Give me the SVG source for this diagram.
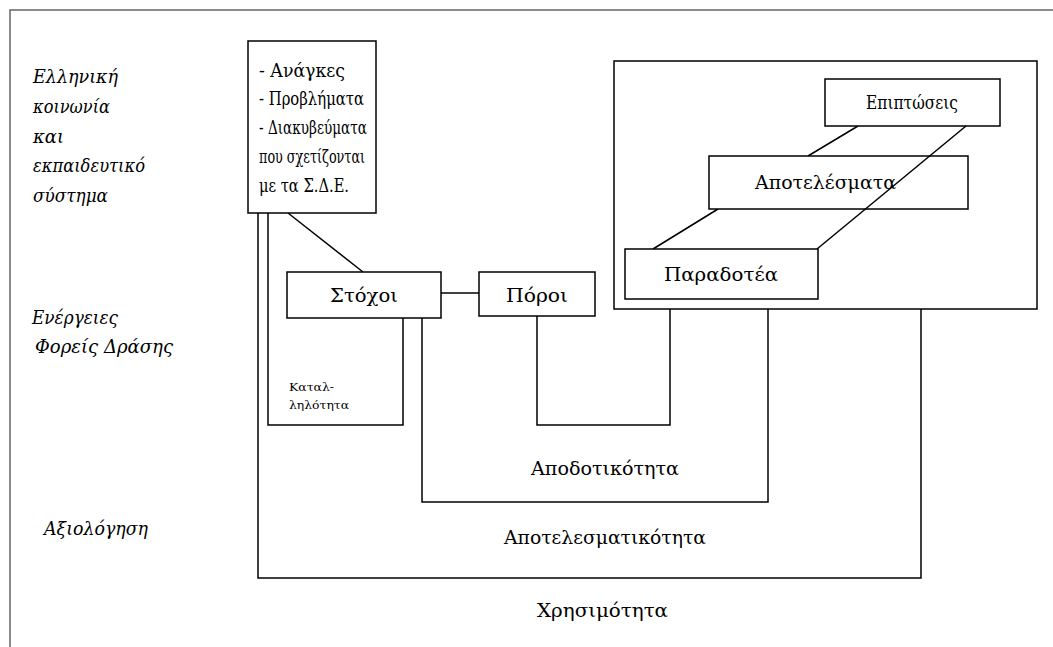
<svg xmlns="http://www.w3.org/2000/svg" width="1053" height="647" viewBox="0 0 1053 647">
  <style>
    .box { fill: #fff; stroke: #000; stroke-width: 1.5; }
    .ln { fill: none; stroke: #000; stroke-width: 1.5; }
    .frame { fill: none; stroke: #666; stroke-width: 1.5; }
    text { font-family: 'DejaVu Serif', 'Liberation Serif', serif; fill: #000; }
    .t { font-size: 18px; }
    .big { font-size: 19px; }
    .it { font-style: italic; font-size: 18px; }
    .sm { font-size: 11px; }
  </style>
  <rect width="1053" height="647" fill="#fff"/>
  <!-- page frame -->
  <path class="frame" d="M10,647 V10 H1053"/>

  <!-- side labels -->
  <g id="label-society">
    <text class="it" x="33" y="83" textLength="85" lengthAdjust="spacingAndGlyphs">Ελληνική</text>
    <text class="it" x="33" y="113" textLength="77" lengthAdjust="spacingAndGlyphs">κοινωνία</text>
    <text class="it" x="33" y="143" textLength="31" lengthAdjust="spacingAndGlyphs">και</text>
    <text class="it" x="33" y="172" textLength="112" lengthAdjust="spacingAndGlyphs">εκπαιδευτικό</text>
    <text class="it" x="33" y="202" textLength="75" lengthAdjust="spacingAndGlyphs">σύστημα</text>
  </g>
  <g id="label-actions">
    <text class="it" x="32" y="324" textLength="86" lengthAdjust="spacingAndGlyphs">Ενέργειες</text>
    <text class="it" x="35" y="353" textLength="138" lengthAdjust="spacingAndGlyphs">Φορείς Δράσης</text>
  </g>
  <g id="label-evaluation">
    <text class="it" x="44" y="535" textLength="104" lengthAdjust="spacingAndGlyphs">Αξιολόγηση</text>
  </g>

  <!-- connectors -->
  <g id="connectors">
    <!-- Χρησιμότητα loop -->
    <path class="ln" d="M258,213 V578 H921 V309"/>
    <!-- Καταλληλότητα loop -->
    <path class="ln" d="M268,213 V425 H403 V318"/>
    <!-- Αποδοτικότητα loop -->
    <path class="ln" d="M422,318 V502 H768 V309"/>
    <!-- Πόροι to outputs -->
    <path class="ln" d="M537,316 V425 H670 V309"/>
    <!-- needs to objectives -->
    <path class="ln" d="M288,213 L363,272"/>
    <!-- objectives to resources -->
    <path class="ln" d="M441,293 H479"/>
  </g>

  <!-- needs box -->
  <g id="needs">
    <rect class="box" x="248" y="41" width="128" height="172"/>
    <text class="t" x="259" y="77" textLength="86" lengthAdjust="spacingAndGlyphs">- Ανάγκες</text>
    <text class="t" x="259" y="105" textLength="105" lengthAdjust="spacingAndGlyphs">- Προβλήματα</text>
    <text class="t" x="259" y="134" textLength="108" lengthAdjust="spacingAndGlyphs">- Διακυβεύματα</text>
    <text class="t" x="259" y="163" textLength="106" lengthAdjust="spacingAndGlyphs">που σχετίζονται</text>
    <text class="t" x="259" y="192" textLength="90" lengthAdjust="spacingAndGlyphs">με τα Σ.Δ.Ε.</text>
  </g>

  <g id="objectives">
    <rect class="box" x="287" y="272" width="154" height="46"/>
    <text class="big" x="330" y="302" textLength="68" lengthAdjust="spacingAndGlyphs">Στόχοι</text>
  </g>

  <g id="resources">
    <rect class="box" x="479" y="272" width="116" height="44"/>
    <text class="big" x="506" y="302" textLength="62" lengthAdjust="spacingAndGlyphs">Πόροι</text>
  </g>

  <g id="relevance-label">
    <text class="sm" x="289" y="391" textLength="45" lengthAdjust="spacingAndGlyphs">Καταλ-</text>
    <text class="sm" x="289" y="409" textLength="60" lengthAdjust="spacingAndGlyphs">ληλότητα</text>
  </g>

  <!-- results frame -->
  <g id="results-frame">
    <rect class="box" x="614" y="61" width="423" height="248"/>
  </g>

  <g id="results-links">
    <path class="ln" d="M858,126 L808,156"/>
    <path class="ln" d="M718,209 L653,249"/>
  </g>

  <g id="impacts">
    <rect class="box" x="825" y="79" width="175" height="47"/>
    <text class="big" x="866" y="109" textLength="92" lengthAdjust="spacingAndGlyphs">Επιπτώσεις</text>
  </g>

  <g id="outcomes">
    <rect class="box" x="709" y="156" width="259" height="53"/>
    <text class="big" x="755" y="189" textLength="141" lengthAdjust="spacingAndGlyphs">Αποτελέσματα</text>
  </g>

  <g id="results-diagonal">
    <path class="ln" d="M966,126 L817,249"/>
  </g>

  <g id="deliverables">
    <rect class="box" x="625" y="249" width="193" height="50"/>
    <text class="big" x="664" y="281" textLength="114" lengthAdjust="spacingAndGlyphs">Παραδοτέα</text>
  </g>

  <!-- evaluation criteria -->
  <g id="efficiency">
    <text class="big" x="531" y="475" textLength="148" lengthAdjust="spacingAndGlyphs">Αποδοτικότητα</text>
  </g>
  <g id="effectiveness">
    <text class="big" x="504" y="544" textLength="202" lengthAdjust="spacingAndGlyphs">Αποτελεσματικότητα</text>
  </g>
  <g id="utility">
    <text class="big" x="537" y="617" textLength="131" lengthAdjust="spacingAndGlyphs">Χρησιμότητα</text>
  </g>
</svg>
